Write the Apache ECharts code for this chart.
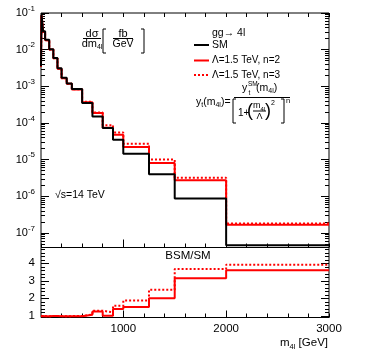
<!DOCTYPE html>
<html>
<head>
<meta charset="utf-8">
<script src="https://cdn.jsdelivr.net/npm/echarts@6/dist/echarts.min.js"></script>
<style>
html, body { margin: 0; padding: 0; background: #fff; }
#chart { width: 366px; height: 355px; }
</style>
</head>
<body>
<div id="chart"></div>
<script>
// bin edges, m4l [GeV]
var edges = [200, 205, 210, 220, 240, 280, 320, 360, 400, 450, 500, 600, 700, 800, 900, 1000, 1250, 1500, 2000, 3000];
// dsigma/dm4l [fb/GeV], one value per bin
var smVals = [3.5e-3, 0.088, 0.065, 0.032, 0.0185, 0.0103, 5.9e-3, 3.1e-3, 1.7e-3, 1.2e-3, 8.4e-4, 3.5e-4, 1.5e-4, 7.3e-5, 3.5e-5, 1.45e-5, 4.0e-6, 8.7e-7, 4.6e-8];
var n2Vals = [3.4e-3, 0.086, 0.064, 0.031, 0.018, 0.0101, 5.8e-3, 3.0e-3, 1.65e-3, 1.17e-3, 8.2e-4, 3.7e-4, 1.87e-4, 7.4e-5, 4.8e-5, 2.2e-5, 8.1e-6, 2.75e-6, 1.66e-7];
var n3Vals = [3.4e-3, 0.087, 0.064, 0.031, 0.018, 0.0101, 5.8e-3, 3.0e-3, 1.66e-3, 1.17e-3, 8.3e-4, 3.8e-4, 1.93e-4, 8.7e-5, 5.5e-5, 2.7e-5, 1.0e-5, 3.2e-6, 1.8e-7];
// BSM/SM
var ratioN2 = [0.97, 0.98, 0.98, 0.97, 0.97, 0.98, 0.98, 0.97, 0.97, 0.97, 0.97, 1.06, 1.25, 1.0, 1.38, 1.5, 2.0, 3.15, 3.6];
var ratioN3 = [0.98, 0.99, 0.98, 0.98, 0.97, 0.98, 0.99, 0.98, 0.97, 0.98, 0.98, 1.08, 1.29, 1.19, 1.57, 1.87, 2.49, 3.67, 3.92];
// tick labels
var yDecades = [1e-7, 1e-6, 1e-5, 1e-4, 1e-3, 1e-2, 1e-1];
var ratioLabels = [1, 2, 3, 4];
var xLabels = [1000, 2000, 3000];
var legendNames = ['SM', 'Λ=1.5 TeV, n=2', 'Λ=1.5 TeV, n=3'];

var FONT = 'Liberation Sans, Arial, Helvetica, sans-serif';

function steps(vals) {
	var d = [];
	for (var i = 0; i < vals.length; i++) {
		d.push([edges[i], vals[i]]);
	}
	d.push([edges[edges.length - 1], vals[vals.length - 1]]);
	return d;
}

// log minor ticks 2..9 x 10^n
var yMin = 4e-8, yMax = 0.1;
var yMinor = [];
for (var e = -8; e <= -2; e++) {
	for (var k = 2; k <= 9; k++) {
		var v = k * Math.pow(10, e);
		if (v > yMin && v < yMax) yMinor.push(v);
	}
}
var rMinor = [];
for (var r = 12; r <= 48; r += 2) {
	if (r % 10 != 0) rMinor.push(r / 10);
}

var chart = echarts.init(document.getElementById('chart'));

function xAx(grid, pos, len, custom, labels) {
	var ax = {
		type: 'value', gridIndex: grid, position: pos, min: 200, max: 3000, interval: 200,
		axisLine: { show: false }, splitLine: { show: false },
		axisTick: { show: true, inside: true, length: len, lineStyle: { color: '#000', width: 1 } },
		axisLabel: { show: false }
	};
	if (custom) ax.axisTick.customValues = custom;
	if (labels) {
		ax.axisLabel = {
			show: true, margin: 5, fontFamily: FONT, fontSize: 11.5, color: '#000',
			showMaxLabel: true, showMinLabel: false,
			formatter: function (v) { return xLabels.indexOf(v) >= 0 ? v : ''; }
		};
	}
	return ax;
}

function logAx(pos, len, ticks, labels) {
	var ax = {
		type: 'log', logBase: 10, gridIndex: 0, position: pos, min: yMin, max: yMax,
		axisLine: { show: false }, splitLine: { show: false },
		axisTick: { show: true, inside: true, length: len, customValues: ticks, lineStyle: { color: '#000' } },
		axisLabel: { show: false }
	};
	if (labels) {
		ax.axisLabel = {
			show: true, margin: 6, customValues: yDecades,
			formatter: function (v) {
				return '{a|10}{b|' + Math.round(Math.log10(v)) + '}';
			},
			rich: {
				a: { fontFamily: FONT, fontSize: 11, color: '#000' },
				b: { fontFamily: FONT, fontSize: 8, color: '#000', padding: [0, 0, 9, 0] }
			}
		};
	}
	return ax;
}

function ratioAx(pos, len, ticks, labels) {
	var ax = {
		type: 'value', gridIndex: 1, position: pos, min: 0.9, max: 4.9,
		axisLine: { show: false }, splitLine: { show: false },
		axisTick: { show: true, inside: true, length: len, customValues: ticks, lineStyle: { color: '#000' } },
		axisLabel: { show: false }
	};
	if (labels) {
		ax.axisLabel = {
			show: true, margin: 6, customValues: ratioLabels,
			fontFamily: FONT, fontSize: 11.5, color: '#000'
		};
	}
	return ax;
}

function txt(x, y, s, size, align, extra) {
	var st = { text: s, fill: '#000', font: size + 'px ' + FONT, textAlign: align || 'left', textVerticalAlign: 'middle' };
	if (extra) { for (var key in extra) st[key] = extra[key]; }
	return { type: 'text', x: x, y: y, style: st, z: 10 };
}
function seg(x1, y1, x2, y2, color, width, dash) {
	return { type: 'line', shape: { x1: x1, y1: y1, x2: x2, y2: y2 }, style: { stroke: color || '#000', lineWidth: width || 1, lineDash: dash || null }, z: 10 };
}
function bracket(pts) {
	return { type: 'polyline', shape: { points: pts }, style: { stroke: '#000', lineWidth: 1, fill: null }, z: 10 };
}
var subRich = {
	n: { fontFamily: FONT, fontSize: 10.5, color: '#000' },
	s: { fontFamily: FONT, fontSize: 7, color: '#000', padding: [7, 0, 0, 0] }
};

var option = {
	animation: false,
	backgroundColor: '#fff',
	grid: [
		{ left: 41, top: 13, width: 288, height: 234.5, show: true, borderColor: '#000', borderWidth: 1, backgroundColor: 'transparent' },
		{ left: 41, top: 247.5, width: 288, height: 70, show: true, borderColor: '#000', borderWidth: 1, backgroundColor: 'transparent' }
	],
	xAxis: [
		xAx(0, 'bottom', 4),
		xAx(0, 'top', 4),
		xAx(1, 'bottom', 4, null, true),
		xAx(0, 'bottom', 8, [1000, 2000]),
		xAx(1, 'bottom', 7, [1000, 2000])
	],
	yAxis: [
		logAx('left', 8, yDecades, true),
		logAx('left', 4, yMinor),
		logAx('right', 8, yDecades),
		logAx('right', 4, yMinor),
		ratioAx('left', 8, ratioLabels, true),
		ratioAx('left', 4, rMinor),
		ratioAx('right', 8, ratioLabels),
		ratioAx('right', 4, rMinor)
	],
	series: [
		{
			name: legendNames[2], type: 'line', step: 'end', xAxisIndex: 0, yAxisIndex: 0,
			symbol: 'none', color: '#ff0000', lineStyle: { color: '#ff0000', width: 2, type: [2, 2] },
			data: steps(n3Vals)
		},
		{
			name: legendNames[1], type: 'line', step: 'end', xAxisIndex: 0, yAxisIndex: 0,
			symbol: 'none', color: '#ff0000', lineStyle: { color: '#ff0000', width: 2 },
			data: steps(n2Vals)
		},
		{
			name: legendNames[0], type: 'line', step: 'end', xAxisIndex: 0, yAxisIndex: 0,
			symbol: 'none', color: '#000', lineStyle: { color: '#000', width: 2 },
			data: steps(smVals)
		},
		{
			name: 'ratio n3', type: 'line', step: 'end', xAxisIndex: 2, yAxisIndex: 4,
			symbol: 'none', color: '#ff0000', lineStyle: { color: '#ff0000', width: 2, type: [2, 2] },
			data: steps(ratioN3)
		},
		{
			name: 'ratio n2', type: 'line', step: 'end', xAxisIndex: 2, yAxisIndex: 4,
			symbol: 'none', color: '#ff0000', lineStyle: { color: '#ff0000', width: 2 },
			data: steps(ratioN2)
		}
	],
	graphic: [
		// dsigma/dm4l [fb/GeV]
		txt(92, 34, 'dσ', 11, 'center'),
		seg(83, 38.5, 101, 38.5),
		txt(92, 44, '{n|dm}{s|4l}', 11, 'center', { rich: { n: { fontFamily: FONT, fontSize: 11, color: '#000' }, s: { fontFamily: FONT, fontSize: 7, color: '#000', padding: [6, 0, 0, 0] } } }),
		bracket([[106, 29], [103, 29], [103, 53], [106, 53]]),
		txt(123, 34, 'fb', 11, 'center'),
		seg(113, 38.5, 133, 38.5),
		txt(123, 44, 'GeV', 10.5, 'center'),
		bracket([[141, 29], [144, 29], [144, 53], [141, 53]]),
		// legend
		txt(212, 33, 'gg→ 4l', 10.5),
		seg(194, 45, 209, 45, '#000', 2),
		txt(212, 45, legendNames[0], 10.5),
		seg(194, 60.5, 209, 60.5, '#ff0000', 2),
		txt(212, 60.5, legendNames[1], 10),
		seg(194, 75, 209, 75, '#ff0000', 2, [2, 2]),
		txt(212, 75, legendNames[2], 10),
		// y_t formula
		txt(196, 102, '{n|y}{s|t}{n|(m}{s|4l}{n|)=}', 10, 'left', { rich: subRich }),
		txt(242, 88, 'y', 10.5),
		txt(248, 84, 'SM', 6.5),
		txt(248.5, 93, 't', 6.5),
		txt(256, 88, '{n|(m}{s|4l}{n|)}', 10, 'left', { rich: subRich }),
		seg(234, 97.5, 290, 97.5),
		bracket([[236, 99], [233, 99], [233, 123], [236, 123]]),
		txt(238, 113, '1+', 10),
		txt(250, 111, '(', 18, 'center'),
		txt(253, 106, '{n|m}{s|4l}', 9, 'left', { rich: { n: { fontFamily: FONT, fontSize: 9, color: '#000' }, s: { fontFamily: FONT, fontSize: 6, color: '#000', padding: [6, 0, 0, 0] } } }),
		seg(253, 111, 266, 111),
		txt(259.5, 116.5, 'Λ', 9, 'center'),
		txt(268, 111, ')', 18, 'center'),
		txt(271, 103, '2', 7),
		bracket([[281, 99], [284, 99], [284, 123], [281, 123]]),
		txt(286, 101, 'n', 7.5),
		// sqrt(s)
		txt(55, 195, '√s=14 TeV', 10.5),
		// ratio title
		txt(188, 256, 'BSM/SM', 11.5, 'center'),
		// x title
		txt(328, 343, '{n|m}{s|4l}{n| [GeV]}', 11.5, 'right', { rich: { n: { fontFamily: FONT, fontSize: 11.5, color: '#000' }, s: { fontFamily: FONT, fontSize: 7.5, color: '#000', padding: [7, 0, 0, 0] } } })
	]
};
chart.setOption(option);
</script>
</body>
</html>
